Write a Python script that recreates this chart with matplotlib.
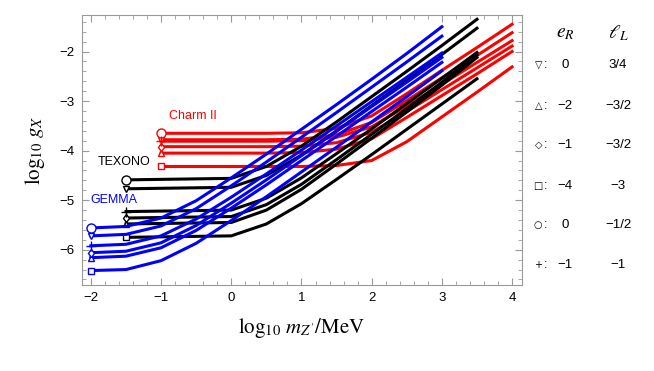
import matplotlib.pyplot as plt
from matplotlib.ticker import MultipleLocator

plt.rcParams['font.family'] = ['Liberation Sans', 'DejaVu Sans']
plt.rcParams['mathtext.fontset'] = 'stix'

# model order: down-tri, up-tri, diamond, square, circle, plus
markers = ['v', '^', 'd', 's', 'o', '+']
msizes = [4.5, 4.5, 4.5, 4.5, 6.5, 6.5]

# GEMMA (blue)
gemma_x = [-2, -1.5, -1, -0.5, 0, 0.5, 1, 1.5, 2, 2.5, 3]
gemma_y = [
    [-5.72, -5.69, -5.52, -5.17, -4.71, -4.23, -3.73, -3.23, -2.72, -2.21, -1.69],
    [-6.16, -6.13, -5.96, -5.61, -5.16, -4.69, -4.20, -3.71, -3.21, -2.72, -2.22],
    [-6.06, -6.03, -5.86, -5.51, -5.06, -4.59, -4.10, -3.61, -3.11, -2.62, -2.12],
    [-6.42, -6.40, -6.22, -5.87, -5.41, -4.93, -4.43, -3.93, -3.42, -2.91, -2.39],
    [-5.56, -5.53, -5.36, -5.01, -4.55, -4.07, -3.57, -3.07, -2.56, -2.04, -1.50],
    [-5.92, -5.89, -5.72, -5.38, -4.94, -4.47, -3.99, -3.50, -3.01, -2.52, -2.03],
]

# TEXONO (black)
texono_x = [-1.5, -1, -0.5, 0, 0.5, 1, 1.5, 2, 2.5, 3, 3.5]
texono_y = [
    [-4.77, -4.76, -4.75, -4.74, -4.50, -4.09, -3.60, -3.09, -2.58, -2.06, -1.53],
    [-5.48, -5.47, -5.46, -5.45, -5.20, -4.78, -4.27, -3.75, -3.22, -2.68, -2.12],
    [-5.36, -5.35, -5.34, -5.33, -5.09, -4.68, -4.18, -3.67, -3.15, -2.62, -2.07],
    [-5.75, -5.74, -5.73, -5.72, -5.48, -5.07, -4.58, -4.08, -3.57, -3.06, -2.55],
    [-4.59, -4.58, -4.57, -4.56, -4.32, -3.91, -3.42, -2.91, -2.40, -1.88, -1.35],
    [-5.23, -5.22, -5.21, -5.20, -4.96, -4.55, -4.06, -3.56, -3.05, -2.54, -2.02],
]

# Charm II (red)
charm_x = [-1, -0.5, 0, 0.5, 1, 1.5, 2, 2.5, 3, 3.5, 4]
charm_y = [
    [-3.78, -3.78, -3.78, -3.78, -3.77, -3.68, -3.43, -2.99, -2.53, -2.08, -1.62],
    [-4.05, -4.05, -4.05, -4.05, -4.04, -3.97, -3.76, -3.33, -2.89, -2.45, -2.00],
    [-3.92, -3.92, -3.92, -3.92, -3.91, -3.84, -3.63, -3.21, -2.77, -2.33, -1.89],
    [-4.32, -4.32, -4.32, -4.32, -4.32, -4.30, -4.20, -3.82, -3.32, -2.82, -2.31],
    [-3.65, -3.65, -3.65, -3.65, -3.64, -3.55, -3.30, -2.85, -2.38, -1.92, -1.45],
    [-3.81, -3.81, -3.81, -3.81, -3.80, -3.73, -3.52, -3.10, -2.66, -2.22, -1.78],
]

legend_syms = ['\u25BD', '\u25B3', '\u25C7', '\u25A1', '\u25CB', '+']
legend_eR = ['0', '\u22122', '\u22121', '\u22124', '0', '\u22121']
legend_lL = ['3/4', '\u22123/2', '\u22123/2', '\u22123', '\u22121/2', '\u22121']

fig = plt.figure(figsize=(6.54, 3.71), dpi=100)
ax = fig.add_axes([0.125, 0.232, 0.673, 0.728])

for xs, ys_all, col in [(charm_x, charm_y, 'red'), (texono_x, texono_y, 'black'),
                        (gemma_x, gemma_y, '#0000ff')]:
    for ys in ys_all:
        ax.plot(xs, ys, color=col, lw=2.2, solid_joinstyle='miter')
    for ys, m, ms in zip(ys_all, markers, msizes):
        ax.plot(xs[0], ys[0], marker=m, ms=ms, mfc='white' if m != '+' else col,
                mec=col, mew=1.0, ls='none')

ax.text(-0.55, -3.30, 'Charm II', color='red', fontsize=9, ha='center', va='center')
ax.text(-1.53, -4.23, 'TEXONO', color='black', fontsize=9, ha='center', va='center')
ax.text(-1.67, -5.00, 'GEMMA', color='#0000ff', fontsize=9, ha='center', va='center')

ax.set_xlim(-2.13, 4.14)
ax.set_ylim(-6.71, -1.26)
ax.xaxis.set_major_locator(MultipleLocator(1))
ax.xaxis.set_minor_locator(MultipleLocator(0.2))
ax.yaxis.set_major_locator(MultipleLocator(1))
ax.yaxis.set_minor_locator(MultipleLocator(0.2))
ax.xaxis.set_major_formatter(plt.FuncFormatter(lambda v, p: f'{v:.0f}'.replace('-', '\u2212')))
ax.yaxis.set_major_formatter(plt.FuncFormatter(lambda v, p: f'{v:.0f}'.replace('-', '\u2212')))
ax.tick_params(which='both', direction='in', top=True, right=True, color='#999999',
               labelsize=9.5)
ax.tick_params(which='major', length=5, width=0.8, pad=5)
ax.tick_params(which='minor', length=3, width=0.6)
for s in ax.spines.values():
    s.set_color('#999999')
    s.set_linewidth(0.8)

ax.set_xlabel(r'$\log_{10}\, m_{Z^\prime}/\mathrm{MeV}$', fontsize=15, labelpad=9)
ax.set_ylabel(r'$\log_{10}\, g_X$', fontsize=15, labelpad=9)

# right-hand key of the charge assignments
fig.text(0.864, 0.911, r'$e_R$', fontsize=14, ha='center', va='center')
fig.text(0.945, 0.911, r'$\ell_L$', fontsize=14, ha='center', va='center')
rows_y = [0.825, 0.714, 0.609, 0.499, 0.394, 0.286]
for yy, sym, e, l in zip(rows_y, legend_syms, legend_eR, legend_lL):
    fig.text(0.823, yy, sym, fontsize=7, ha='center', va='center', family='DejaVu Sans')
    fig.text(0.834, yy, ':', fontsize=9, ha='center', va='center')
    fig.text(0.864, yy, e, fontsize=9.5, ha='center', va='center')
    fig.text(0.945, yy, l, fontsize=9.5, ha='center', va='center')

fig.savefig('out.png', dpi=100)
